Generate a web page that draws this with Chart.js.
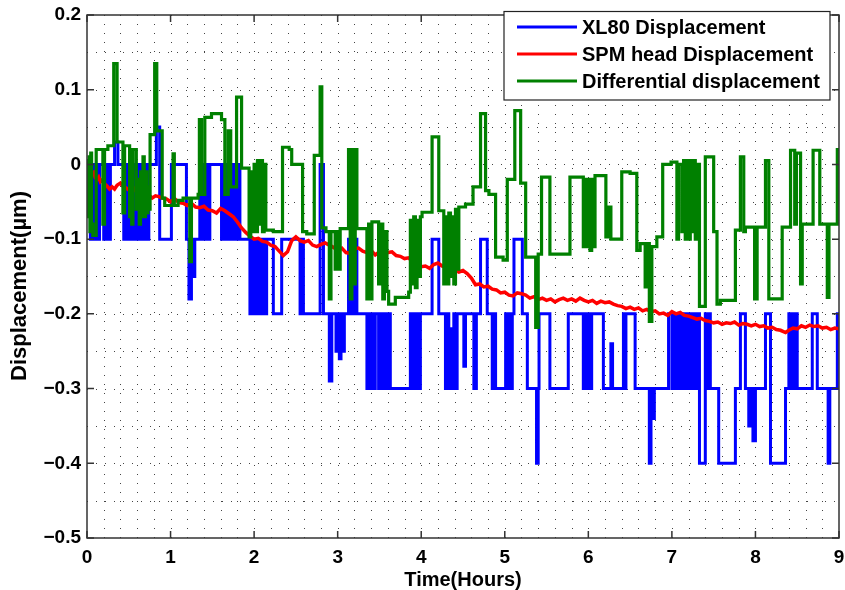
<!DOCTYPE html>
<html>
<head>
<meta charset="utf-8">
<script src="https://cdn.jsdelivr.net/npm/chart.js@4.4.1/dist/chart.umd.min.js"></script>
<style>
    html, body { margin: 0; padding: 0; background: #fff; }
</style>
</head>
<body>
<canvas id="myChart" width="845" height="590"></canvas>
<script>
const seriesLabels = ['XL80 Displacement', 'SPM head Displacement', 'Differential displacement'];
const seriesColors = ['#0000ff', '#ff0000', '#008000'];
const xAxisTitle = 'Time(Hours)';
const yAxisTitle = 'Displacement(µm)';

// [time in hours, displacement in µm]
const xl80Points = [[0,0],[0.04,-0.1],[0.06,0],[0.07,-0.1],[0.09,0],[0.10,-0.1],[0.12,0],[0.13,-0.1],[0.15,0],[0.20,-0.1],[0.22,0],[0.23,-0.1],[0.25,0],[0.26,-0.1],[0.28,0],[0.33,0.03],[0.37,0],[0.44,-0.1],[0.47,0],[0.50,-0.1],[0.52,0],[0.53,-0.1],[0.56,0],[0.57,-0.1],[0.60,0],[0.61,-0.1],[0.63,0],[0.64,-0.1],[0.67,0],[0.68,-0.1],[0.70,0],[0.71,-0.1],[0.74,0],[0.83,0.05],[0.87,-0.1],[1.01,0],[1.19,-0.1],[1.22,-0.18],[1.25,-0.1],[1.27,-0.15],[1.29,-0.1],[1.35,0],[1.36,-0.1],[1.39,0],[1.40,-0.1],[1.43,0],[1.44,-0.1],[1.47,0],[1.61,-0.1],[1.63,0],[1.64,-0.1],[1.66,0],[1.67,-0.1],[1.70,0],[1.71,-0.1],[1.74,0],[1.75,-0.1],[1.78,0],[1.79,-0.1],[1.81,0],[1.83,-0.1],[1.95,-0.2],[1.97,-0.1],[1.98,-0.2],[2.00,-0.1],[2.02,-0.2],[2.04,-0.1],[2.05,-0.2],[2.07,-0.1],[2.09,-0.2],[2.11,-0.1],[2.13,-0.2],[2.15,-0.1],[2.23,-0.2],[2.33,-0.1],[2.55,-0.2],[2.57,-0.1],[2.59,-0.2],[2.79,0],[2.83,-0.2],[2.90,-0.29],[2.93,-0.2],[2.98,-0.25],[3.00,-0.2],[3.02,-0.26],[3.04,-0.2],[3.06,-0.25],[3.08,-0.2],[3.13,-0.1],[3.15,-0.2],[3.17,-0.1],[3.19,-0.2],[3.21,-0.1],[3.23,-0.2],[3.35,-0.3],[3.37,-0.2],[3.39,-0.3],[3.41,-0.2],[3.43,-0.3],[3.45,-0.2],[3.49,-0.3],[3.51,-0.2],[3.53,-0.3],[3.56,-0.2],[3.58,-0.3],[3.61,-0.2],[3.63,-0.3],[3.87,-0.2],[3.89,-0.3],[3.91,-0.2],[3.93,-0.3],[3.95,-0.2],[3.97,-0.3],[3.99,-0.2],[4.13,-0.1],[4.21,-0.2],[4.29,-0.3],[4.31,-0.2],[4.33,-0.3],[4.35,-0.22],[4.37,-0.3],[4.39,-0.2],[4.41,-0.3],[4.43,-0.2],[4.51,-0.27],[4.53,-0.2],[4.63,-0.3],[4.66,-0.2],[4.71,-0.1],[4.79,-0.2],[4.85,-0.3],[4.87,-0.2],[4.89,-0.3],[5.01,-0.2],[5.03,-0.3],[5.05,-0.2],[5.07,-0.3],[5.09,-0.2],[5.11,-0.1],[5.21,-0.2],[5.27,-0.3],[5.38,-0.4],[5.40,-0.3],[5.41,-0.2],[5.54,-0.3],[5.76,-0.2],[5.94,-0.3],[5.96,-0.2],[5.98,-0.3],[6.00,-0.2],[6.02,-0.3],[6.04,-0.2],[6.18,-0.3],[6.27,-0.24],[6.29,-0.3],[6.42,-0.2],[6.43,-0.3],[6.45,-0.2],[6.56,-0.3],[6.73,-0.4],[6.75,-0.3],[6.77,-0.34],[6.79,-0.3],[6.96,-0.2],[7.00,-0.3],[7.02,-0.2],[7.04,-0.3],[7.06,-0.2],[7.08,-0.3],[7.10,-0.2],[7.12,-0.3],[7.14,-0.2],[7.16,-0.3],[7.18,-0.2],[7.20,-0.3],[7.22,-0.2],[7.24,-0.3],[7.26,-0.2],[7.28,-0.3],[7.30,-0.2],[7.33,-0.4],[7.40,-0.2],[7.42,-0.3],[7.44,-0.2],[7.46,-0.3],[7.56,-0.4],[7.76,-0.3],[7.82,-0.2],[7.88,-0.3],[7.92,-0.35],[7.94,-0.3],[7.97,-0.37],[8.00,-0.3],[8.12,-0.2],[8.18,-0.4],[8.36,-0.3],[8.40,-0.2],[8.42,-0.3],[8.44,-0.2],[8.46,-0.3],[8.48,-0.2],[8.50,-0.3],[8.68,-0.2],[8.74,-0.3],[8.87,-0.4],[8.89,-0.3],[8.98,-0.2],[9.00,-0.2]];

const spmPoints = [[0,0],[0.02,-0.006],[0.04,-0.004],[0.06,-0.013],[0.08,-0.011],[0.10,-0.018],[0.12,-0.02],[0.14,-0.017],[0.16,-0.023],[0.18,-0.021],[0.21,-0.026],[0.24,-0.029],[0.27,-0.033],[0.30,-0.03],[0.33,-0.033],[0.36,-0.028],[0.40,-0.025],[0.43,-0.029],[0.46,-0.031],[0.50,-0.034],[0.54,-0.029],[0.58,-0.035],[0.62,-0.036],[0.66,-0.034],[0.70,-0.039],[0.74,-0.041],[0.78,-0.045],[0.82,-0.042],[0.86,-0.043],[0.90,-0.045],[0.95,-0.046],[1.00,-0.05],[1.05,-0.046],[1.10,-0.051],[1.15,-0.052],[1.20,-0.055],[1.25,-0.052],[1.30,-0.057],[1.35,-0.058],[1.40,-0.056],[1.45,-0.061],[1.50,-0.062],[1.55,-0.065],[1.60,-0.059],[1.65,-0.062],[1.70,-0.066],[1.75,-0.07],[1.80,-0.077],[1.85,-0.085],[1.90,-0.091],[1.95,-0.096],[2.00,-0.1],[2.05,-0.099],[2.10,-0.103],[2.15,-0.104],[2.20,-0.108],[2.25,-0.11],[2.30,-0.116],[2.35,-0.122],[2.40,-0.117],[2.45,-0.102],[2.50,-0.097],[2.55,-0.102],[2.60,-0.104],[2.65,-0.102],[2.70,-0.108],[2.75,-0.11],[2.80,-0.107],[2.85,-0.105],[2.90,-0.108],[2.95,-0.111],[3.00,-0.115],[3.05,-0.112],[3.10,-0.118],[3.15,-0.119],[3.20,-0.113],[3.25,-0.112],[3.30,-0.116],[3.35,-0.118],[3.40,-0.115],[3.45,-0.121],[3.50,-0.117],[3.55,-0.114],[3.60,-0.118],[3.65,-0.117],[3.70,-0.122],[3.75,-0.123],[3.80,-0.126],[3.85,-0.125],[3.90,-0.131],[3.95,-0.134],[4.00,-0.137],[4.05,-0.136],[4.10,-0.139],[4.15,-0.134],[4.20,-0.132],[4.25,-0.136],[4.30,-0.137],[4.35,-0.139],[4.40,-0.141],[4.45,-0.144],[4.50,-0.142],[4.55,-0.146],[4.60,-0.152],[4.65,-0.161],[4.70,-0.16],[4.75,-0.164],[4.80,-0.163],[4.85,-0.167],[4.90,-0.168],[4.95,-0.172],[5.00,-0.171],[5.05,-0.175],[5.10,-0.176],[5.15,-0.172],[5.20,-0.173],[5.25,-0.175],[5.30,-0.179],[5.35,-0.177],[5.40,-0.181],[5.45,-0.179],[5.50,-0.182],[5.55,-0.18],[5.60,-0.184],[5.65,-0.181],[5.70,-0.179],[5.75,-0.182],[5.80,-0.18],[5.85,-0.183],[5.90,-0.179],[5.95,-0.182],[6.00,-0.184],[6.05,-0.182],[6.10,-0.186],[6.15,-0.183],[6.20,-0.185],[6.25,-0.184],[6.30,-0.187],[6.35,-0.189],[6.40,-0.19],[6.45,-0.193],[6.50,-0.191],[6.55,-0.194],[6.60,-0.192],[6.65,-0.196],[6.70,-0.194],[6.75,-0.197],[6.80,-0.196],[6.85,-0.2],[6.90,-0.199],[6.95,-0.202],[7.00,-0.197],[7.05,-0.2],[7.10,-0.198],[7.15,-0.202],[7.20,-0.203],[7.25,-0.205],[7.30,-0.207],[7.35,-0.206],[7.40,-0.209],[7.45,-0.21],[7.50,-0.212],[7.55,-0.211],[7.60,-0.214],[7.65,-0.212],[7.70,-0.213],[7.75,-0.211],[7.80,-0.215],[7.85,-0.213],[7.90,-0.214],[7.95,-0.216],[8.00,-0.214],[8.05,-0.217],[8.10,-0.216],[8.15,-0.219],[8.20,-0.218],[8.25,-0.221],[8.30,-0.222],[8.36,-0.225],[8.40,-0.222],[8.45,-0.219],[8.50,-0.22],[8.55,-0.216],[8.60,-0.218],[8.65,-0.215],[8.70,-0.217],[8.75,-0.216],[8.80,-0.219],[8.85,-0.218],[8.90,-0.221],[8.95,-0.219],[9.00,-0.22]];

const diffPoints = [[0,0.005],[0.015,-0.07],[0.025,0.01],[0.035,-0.09],[0.045,0.015],[0.055,-0.08],[0.07,-0.095],[0.11,0.02],[0.19,-0.08],[0.21,0.02],[0.25,0.025],[0.32,0.135],[0.36,0.03],[0.43,-0.065],[0.45,0.025],[0.51,-0.07],[0.52,0.02],[0.535,-0.08],[0.55,0.02],[0.59,-0.06],[0.61,-0.02],[0.625,-0.08],[0.64,-0.01],[0.655,-0.07],[0.67,0.01],[0.685,-0.07],[0.70,-0.01],[0.715,-0.065],[0.73,-0.03],[0.745,-0.06],[0.755,0.04],[0.81,0.135],[0.835,0.045],[0.90,-0.045],[0.93,-0.055],[1.03,0.014],[1.045,-0.055],[1.09,-0.048],[1.15,-0.045],[1.23,-0.13],[1.25,-0.045],[1.33,-0.04],[1.345,0.06],[1.37,-0.04],[1.41,0.063],[1.49,0.068],[1.61,0.06],[1.65,-0.04],[1.69,0.045],[1.72,-0.03],[1.79,0.09],[1.85,-0.005],[1.94,-0.097],[1.96,-0.01],[1.98,-0.09],[2.00,0],[2.02,-0.09],[2.04,0.005],[2.06,-0.08],[2.08,0.005],[2.10,-0.09],[2.12,0],[2.14,-0.088],[2.23,-0.09],[2.34,0.023],[2.42,0.02],[2.45,0],[2.58,-0.09],[2.63,-0.093],[2.72,0.012],[2.79,0.104],[2.81,-0.085],[2.86,-0.09],[2.90,-0.18],[2.92,-0.09],[2.97,-0.14],[2.99,-0.09],[3.01,-0.14],[3.03,-0.086],[3.13,0.02],[3.15,-0.18],[3.17,0.02],[3.19,-0.16],[3.21,0.02],[3.23,-0.086],[3.35,-0.18],[3.37,-0.08],[3.39,-0.18],[3.41,-0.077],[3.49,-0.16],[3.51,-0.08],[3.54,-0.18],[3.56,-0.09],[3.59,-0.17],[3.61,-0.187],[3.69,-0.178],[3.85,-0.171],[3.87,-0.075],[3.89,-0.16],[3.91,-0.07],[3.93,-0.165],[3.95,-0.075],[3.97,-0.15],[3.99,-0.07],[4.01,-0.064],[4.13,0.037],[4.21,-0.062],[4.27,-0.16],[4.29,-0.07],[4.31,-0.16],[4.33,-0.065],[4.35,-0.15],[4.37,-0.07],[4.39,-0.16],[4.41,-0.06],[4.43,-0.14],[4.45,-0.057],[4.53,-0.053],[4.62,-0.03],[4.71,0.068],[4.77,-0.035],[4.81,-0.04],[4.89,-0.124],[4.98,-0.128],[5.03,-0.02],[5.12,0.072],[5.19,-0.025],[5.25,-0.124],[5.37,-0.218],[5.40,-0.12],[5.44,-0.017],[5.54,-0.12],[5.78,-0.017],[5.94,-0.11],[5.96,-0.02],[5.98,-0.11],[6.00,-0.02],[6.02,-0.115],[6.04,-0.02],[6.06,-0.11],[6.08,-0.015],[6.21,-0.097],[6.24,-0.057],[6.27,-0.1],[6.40,-0.01],[6.50,-0.012],[6.58,-0.115],[6.62,-0.106],[6.68,-0.164],[6.70,-0.106],[6.73,-0.21],[6.76,-0.11],[6.82,-0.097],[6.89,0],[6.99,0.003],[7.06,-0.1],[7.08,0],[7.12,-0.09],[7.14,0.005],[7.16,-0.1],[7.18,0.005],[7.20,-0.1],[7.22,0.005],[7.24,-0.09],[7.26,0.005],[7.28,-0.1],[7.30,0],[7.33,-0.19],[7.40,0.01],[7.50,-0.09],[7.54,-0.187],[7.58,-0.182],[7.76,-0.088],[7.82,0.01],[7.86,-0.09],[7.88,-0.084],[7.99,-0.18],[8.02,-0.084],[8.12,0.005],[8.16,-0.18],[8.32,-0.084],[8.42,0.019],[8.47,-0.08],[8.49,0.015],[8.54,-0.16],[8.56,-0.08],[8.69,0.019],[8.77,-0.08],[8.86,-0.178],[8.88,-0.08],[8.98,0.02],[9.00,0.02]];

const xMajorTicks = [0, 1, 2, 3, 4, 5, 6, 7, 8, 9];
const yMajorTicks = [-0.5, -0.4, -0.3, -0.2, -0.1, 0, 0.1, 0.2];

const FONT = "'Liberation Sans', Arial, sans-serif";

function toXY(points) {
    return points.map(p => ({ x: p[0], y: p[1] }));
}

function fmtY(v) {
    const r = Math.round(v * 10) / 10;
    if (r === 0) return '0';
    return r < 0 ? '\u2212' + Math.abs(r) : String(r);
}

// MATLAB-like dotted grid, inward ticks, box, legend and y label
const matlabAxes = {
    id: 'matlabAxes',
    beforeDatasetsDraw(chart) {
        const { ctx, chartArea: a, scales: { x, y } } = chart;
        ctx.save();
        ctx.strokeStyle = '#444';
        ctx.lineWidth = 1;
        ctx.setLineDash([1, 8]);
        for (let i = 1; i < 45; i++) {
            const px = Math.round(x.getPixelForValue(i * 0.2)) + 0.5;
            ctx.beginPath();
            ctx.moveTo(px, a.bottom);
            ctx.lineTo(px, a.top);
            ctx.stroke();
        }
        for (let i = 1; i < 14; i++) {
            const py = Math.round(y.getPixelForValue(-0.5 + i * 0.05)) + 0.5;
            ctx.beginPath();
            ctx.moveTo(a.left, py);
            ctx.lineTo(a.right, py);
            ctx.stroke();
        }
        ctx.restore();
    },
    afterDatasetsDraw(chart) {
        const { ctx, chartArea: a, scales: { x, y } } = chart;
        ctx.save();
        ctx.strokeStyle = '#333';
        ctx.lineWidth = 1.5;
        ctx.strokeRect(a.left, a.top, a.right - a.left, a.bottom - a.top);
        const tl = 7;
        ctx.beginPath();
        xMajorTicks.forEach(v => {
            const px = x.getPixelForValue(v);
            ctx.moveTo(px, a.bottom); ctx.lineTo(px, a.bottom - tl);
            ctx.moveTo(px, a.top); ctx.lineTo(px, a.top + tl);
        });
        yMajorTicks.forEach(v => {
            const py = y.getPixelForValue(v);
            ctx.moveTo(a.left, py); ctx.lineTo(a.left + tl, py);
            ctx.moveTo(a.right, py); ctx.lineTo(a.right - tl, py);
        });
        ctx.stroke();

        // legend box (inside the axes, top right)
        const bx = 504, by = 11.5, bw = 326, bh = 88.5;
        ctx.fillStyle = '#fff';
        ctx.fillRect(bx, by, bw, bh);
        ctx.lineWidth = 1.2;
        ctx.strokeStyle = '#222';
        ctx.strokeRect(bx, by, bw, bh);
        ctx.font = 'bold 20px ' + FONT;
        ctx.textBaseline = 'middle';
        ctx.textAlign = 'left';
        chart.data.datasets.forEach((ds, i) => {
            const ly = by + 15.5 + i * 27;
            ctx.strokeStyle = ds.borderColor;
            ctx.lineWidth = 3;
            ctx.beginPath();
            ctx.moveTo(517, ly);
            ctx.lineTo(577, ly);
            ctx.stroke();
            ctx.fillStyle = '#000';
            ctx.fillText(ds.label, 582, ly + 1);
        });

        // y axis label, rotated, a little below the axes centre like the original
        ctx.translate(20, 286);
        ctx.rotate(-Math.PI / 2);
        ctx.font = 'bold 22px ' + FONT;
        ctx.textAlign = 'center';
        ctx.fillStyle = '#000';
        ctx.fillText(yAxisTitle, 0, 0);
        ctx.restore();
    }
};

new Chart(document.getElementById('myChart'), {
    type: 'line',
    data: {
        datasets: [
            {
                label: seriesLabels[0],
                data: toXY(xl80Points),
                borderColor: seriesColors[0],
                borderWidth: 3,
                stepped: true,
                pointRadius: 0,
                order: 3
            },
            {
                label: seriesLabels[1],
                data: toXY(spmPoints),
                borderColor: seriesColors[1],
                borderWidth: 3.5,
                pointRadius: 0,
                order: 2
            },
            {
                label: seriesLabels[2],
                data: toXY(diffPoints),
                borderColor: seriesColors[2],
                borderWidth: 3.2,
                stepped: true,
                pointRadius: 0,
                order: 1
            }
        ]
    },
    options: {
        responsive: false,
        animation: false,
        layout: { padding: 0 },
        plugins: {
            legend: { display: false },
            tooltip: { enabled: false }
        },
        scales: {
            x: {
                type: 'linear',
                min: 0,
                max: 9,
                grid: { display: false, drawTicks: false },
                border: { display: false },
                ticks: {
                    stepSize: 1,
                    padding: 8,
                    color: '#000',
                    maxRotation: 0,
                    autoSkip: false,
                    font: { family: FONT, size: 19, weight: 'bold' }
                },
                title: {
                    display: true,
                    text: xAxisTitle,
                    color: '#000',
                    padding: 0,
                    font: { family: FONT, size: 20, weight: 'bold', lineHeight: 1 }
                },
                afterFit: scale => {
                    scale.height = 52;
                    scale.paddingRight = 6;
                }
            },
            y: {
                type: 'linear',
                min: -0.5,
                max: 0.2,
                grid: { display: false, drawTicks: false },
                border: { display: false },
                ticks: {
                    stepSize: 0.1,
                    padding: 6,
                    color: '#000',
                    callback: v => fmtY(v),
                    font: { family: FONT, size: 19, weight: 'bold' }
                },
                afterFit: scale => {
                    scale.width = 87;
                    scale.paddingTop = 15;
                }
            }
        }
    },
    plugins: [matlabAxes]
});
</script>
</body>
</html>
